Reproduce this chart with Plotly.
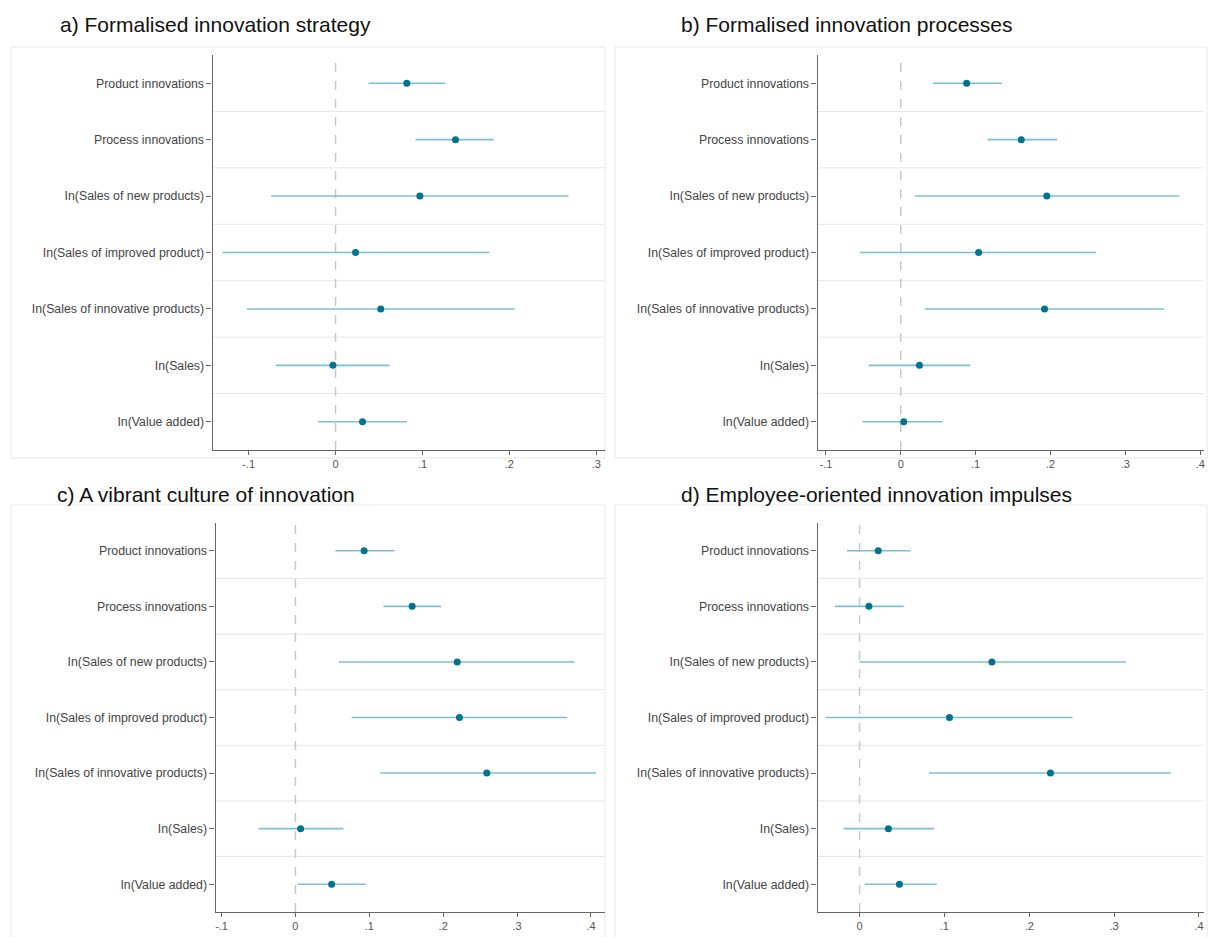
import plotly.graph_objects as go

categories = [
    "Product innovations",
    "Process innovations",
    "In(Sales of new products)",
    "In(Sales of improved product)",
    "In(Sales of innovative products)",
    "In(Sales)",
    "In(Value added)",
]

panel_titles = [
    "a) Formalised innovation strategy",
    "b) Formalised innovation processes",
    "c) A vibrant culture of innovation",
    "d) Employee-oriented innovation impulses",
]

# point estimates and confidence bounds per panel
a_est = [0.082, 0.138, 0.097, 0.023, 0.052, -0.003, 0.031]
a_lo = [0.038, 0.092, -0.074, -0.130, -0.102, -0.069, -0.020]
a_hi = [0.126, 0.182, 0.268, 0.177, 0.206, 0.062, 0.082]

b_est = [0.088, 0.161, 0.195, 0.104, 0.192, 0.025, 0.004]
b_lo = [0.043, 0.116, 0.019, -0.055, 0.032, -0.043, -0.051]
b_hi = [0.135, 0.209, 0.372, 0.261, 0.352, 0.093, 0.056]

c_est = [0.093, 0.158, 0.219, 0.222, 0.259, 0.007, 0.049]
c_lo = [0.054, 0.119, 0.059, 0.076, 0.115, -0.050, 0.003]
c_hi = [0.134, 0.197, 0.378, 0.368, 0.407, 0.065, 0.095]

d_est = [0.022, 0.011, 0.156, 0.106, 0.225, 0.034, 0.047]
d_lo = [-0.015, -0.029, 0.000, -0.040, 0.082, -0.019, 0.006]
d_hi = [0.060, 0.052, 0.314, 0.251, 0.367, 0.088, 0.091]

x_ticks_a = [-0.1, 0, 0.1, 0.2, 0.3]
x_ticks_b = [-0.1, 0, 0.1, 0.2, 0.3, 0.4]
x_ticks_c = [-0.1, 0, 0.1, 0.2, 0.3, 0.4]
x_ticks_d = [0, 0.1, 0.2, 0.3, 0.4]

W, H = 1209, 937
FONT = "Liberation Sans, Arial, Helvetica, sans-serif"


def fmt(v):
    if abs(v) < 1e-9:
        return "0"
    s = f"{v:.1f}"
    return s.replace("0.", ".")


panels = [
    dict(est=a_est, lo=a_lo, hi=a_hi, ticks=x_ticks_a, xr=[-0.1414, 0.310],
         px=(212, 605), py=(55, 450), frame=(10, 47, 605, 458), title_xy=(57, 25)),
    dict(est=b_est, lo=b_lo, hi=b_hi, ticks=x_ticks_b, xr=[-0.111, 0.405],
         px=(818, 1205), py=(55, 450), frame=(615, 47, 1208, 458), title_xy=(679, 25)),
    dict(est=c_est, lo=c_lo, hi=c_hi, ticks=x_ticks_c, xr=[-0.108, 0.419],
         px=(215, 605), py=(523, 912), frame=(10, 505, 605, 940), title_xy=(54, 494)),
    dict(est=d_est, lo=d_lo, hi=d_hi, ticks=x_ticks_d, xr=[-0.0494, 0.406],
         px=(818, 1205), py=(523, 912), frame=(615, 505, 1208, 940), title_xy=(679, 494)),
]

fig = go.Figure()
shapes = []
annotations = []
ypos = list(range(len(categories)))

for i, p in enumerate(panels):
    n = "" if i == 0 else str(i + 1)
    xa, ya = "x" + n, "y" + n
    err_plus = [h - e for h, e in zip(p["hi"], p["est"])]
    err_minus = [e - l for e, l in zip(p["est"], p["lo"])]
    fig.add_trace(go.Scatter(
        x=p["est"], y=ypos, mode="markers",
        marker=dict(color="#00738f", size=7),
        error_x=dict(type="data", symmetric=False, array=err_plus,
                     arrayminus=err_minus, width=0, thickness=1.6,
                     color="#7dbfd3"),
        xaxis=xa, yaxis=ya, showlegend=False, hoverinfo="skip",
    ))
    x0, x1 = p["px"]
    y0, y1 = p["py"]
    fig.layout["xaxis" + n] = dict(
        domain=[x0 / W, x1 / W], range=p["xr"], anchor=ya,
        tickvals=p["ticks"], ticktext=[fmt(t) for t in p["ticks"]],
        showgrid=False, zeroline=False, showline=True, linecolor="#666666",
        linewidth=1.3, ticks="outside", ticklen=4, tickcolor="#666666",
        tickfont=dict(family=FONT, size=11, color="#555555"),
        fixedrange=True,
    )
    fig.layout["yaxis" + n] = dict(
        domain=[1 - y1 / H, 1 - y0 / H], range=[6.5, -0.5], anchor=xa,
        tickvals=ypos, ticktext=categories,
        showgrid=False, zeroline=False, showline=True, linecolor="#666666",
        linewidth=1.3, ticks="outside", ticklen=5, tickcolor="#666666",
        tickfont=dict(family=FONT, size=12.3, color="#444444"),
        fixedrange=True,
    )
    # row separators
    for k in range(len(categories) - 1):
        shapes.append(dict(type="line", xref=xa + " domain", yref=ya,
                           x0=0, x1=1, y0=k + 0.5, y1=k + 0.5,
                           line=dict(color="#e6e6e6", width=1), layer="below"))
    # zero reference line
    shapes.append(dict(type="line", xref=xa, yref=ya + " domain",
                       x0=0, x1=0, y0=0, y1=1,
                       line=dict(color="#c8c8c8", width=1.5, dash="dash"),
                       layer="below"))
    # panel frame
    fx0, fy0, fx1, fy1 = p["frame"]
    shapes.append(dict(type="rect", xref="paper", yref="paper",
                       x0=fx0 / W, x1=fx1 / W, y0=1 - fy1 / H, y1=1 - fy0 / H,
                       line=dict(color="#e8e8e8", width=1), layer="below"))
    tx, ty = p["title_xy"]
    annotations.append(dict(text=panel_titles[i], xref="paper", yref="paper",
                            x=tx / W, y=1 - ty / H, xanchor="left",
                            yanchor="middle", showarrow=False,
                            font=dict(family=FONT, size=21, color="#111111")))

fig.update_layout(
    width=W, height=H, margin=dict(l=0, r=0, t=0, b=0),
    paper_bgcolor="white", plot_bgcolor="white",
    shapes=shapes, annotations=annotations,
)

fig.write_html(
    "out.html",
    config={"displayModeBar": False},
    post_script="document.body.style.margin='0';document.body.style.overflow='hidden';",
)
